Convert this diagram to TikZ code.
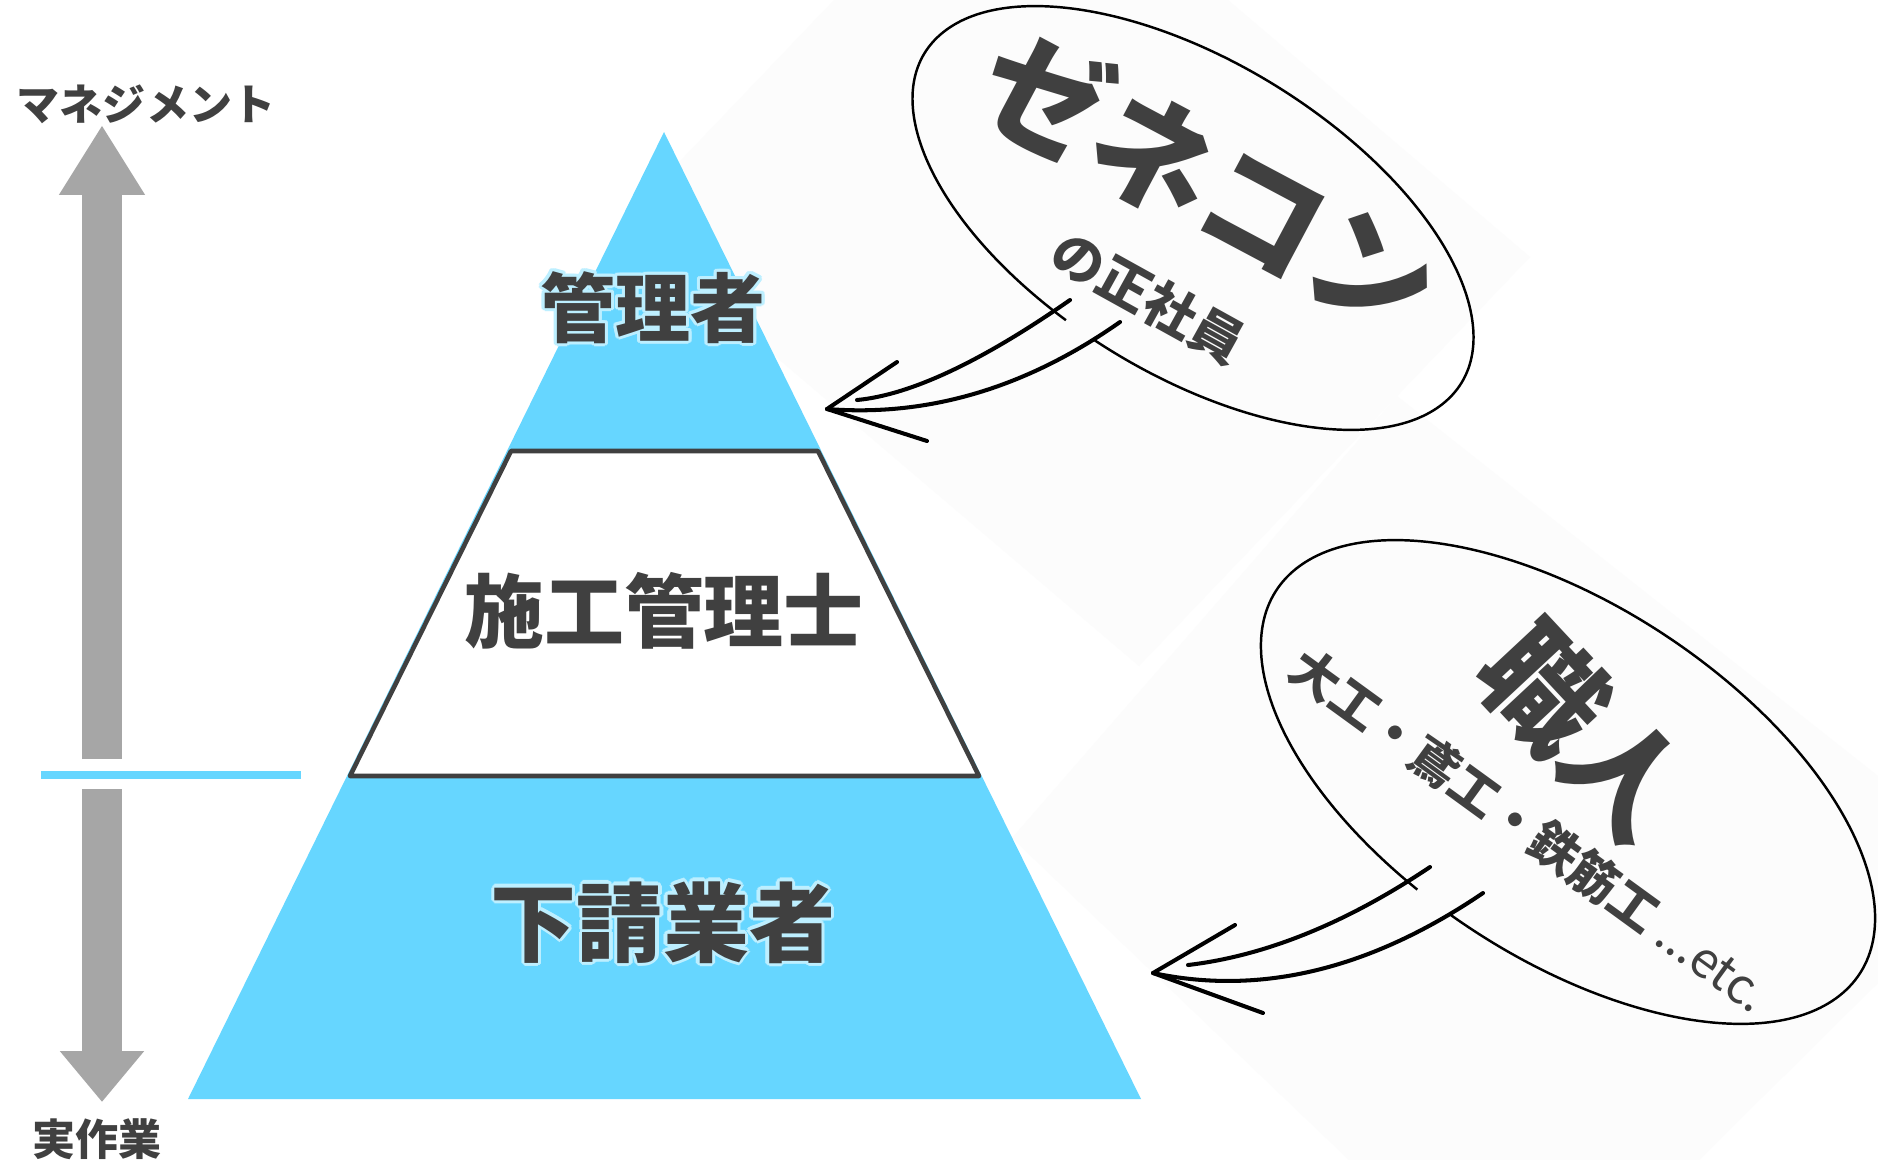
\documentclass[tikz,border=0pt]{standalone}
\usepackage{fontspec}
\usepackage[copies]{contour}
\usetikzlibrary{arrows.meta}

\newfontfamily\jp{Noto Sans CJK JP}
\newcommand\fs[1]{\fontsize{#1}{#1}\selectfont}
\definecolor{ink}{HTML}{404040}
\definecolor{sky}{HTML}{66D6FF}
\definecolor{glow}{HTML}{BDEFFF}
\definecolor{steel}{HTML}{A6A6A6}
\definecolor{paper}{HTML}{FCFCFC}
\contourlength{1.8pt}
\contournumber{12}

\begin{document}
\begin{tikzpicture}[x=0.02cm, y=-0.02cm]
\tikzset{tag/.style = {text=ink, inner sep=0pt, font=\jp\bfseries}}
\tikzset{shaft/.style = {steel, line width=22.8pt}}
\tikzset{rim/.style = {black, line width=1.4pt}}
\tikzset{sketch/.style = {black, line width=2.3pt, line cap=round}}

\fill[white] (0,0) rectangle (1878,1160);
\useasboundingbox (0,0) rectangle (1878,1160);
\fill[paper] (620,224) -- (834,0) -- (1228,0) -- (1530,257) -- (1139,666) -- cycle;
\fill[paper] (1012,838) -- (1397,396) -- (1878,776) -- (1878,983) -- (1699,1160) -- (1349,1160) -- cycle;

\node[tag, font=\jp\bfseries\fs{24.5pt}] (mgmt) at (146,104) {マネジメント};
\node[tag, font=\jp\bfseries\fs{24.5pt}] (work) at (97,1139) {実作業};

\coordinate (upfoot) at (102,759);
\coordinate (uptip) at (102,125);
\coordinate (dnfoot) at (102,789);
\coordinate (dntip) at (102,1102);
\draw[shaft, -{Triangle[width=46.1pt,length=39.8pt]}] (upfoot) -- (uptip);
\draw[shaft, -{Triangle[width=46.1pt,length=29pt]}] (dnfoot) -- (dntip);
\draw[sky, line width=4.6pt] (41,775) -- (301,775);

\coordinate (apex) at (664,132);
\coordinate (bl) at (188,1099);
\coordinate (br) at (1141,1099);
\fill[sky] (apex) -- (br) -- (bl) -- cycle;
\draw[ink, fill=white, line width=2.6pt, line join=round] (511,451) -- (818,451) -- (979,776) -- (350,776) -- cycle;

\node[tag, font=\jp\bfseries\fs{42.7pt}] (mgr) at (653,309) {\contour{glow}{管理者}};
\node[tag, font=\jp\bfseries\fs{45.5pt}] (eng) at (664,611) {施工管理士};
\node[tag, font=\jp\bfseries\fs{49pt}] (sub) at (663,924) {\contour{glow}{下請業者}};

\begin{scope}[shift={(1193,218)}, rotate=-31.6]
\draw[rim] (100:315 and 156) arc[start angle=100, end angle=454, x radius=315, y radius=156];
\end{scope}
\begin{scope}[shift={(1568,782)}, rotate=-33.4]
\draw[rim] (101:349 and 176) arc[start angle=101, end angle=454, x radius=349, y radius=176];
\end{scope}

\node[tag, font=\jp\bfseries\fs{71pt}, rotate=-28] (gc) at (1210,181) {ゼネコン};
\node[tag, font=\jp\bfseries\fs{30pt}, rotate=-29] (gcstaff) at (1148,297) {の正社員};
\node[tag, font=\jp\bfseries\fs{68pt}, rotate=-47] (craft) at (1585,732) {職人};
\node[tag, font=\jp\bfseries\fs{28pt}, rotate=-36] (trades) at (1530,830) {大工・鳶工・鉄筋工 {\mdseries ...etc.}};

\coordinate (gcA) at (1070,300);
\coordinate (gcB) at (1120,322);
\coordinate (gcend) at (857,400);
\coordinate (gctip) at (827,409);
\draw[sketch] (gcA) .. controls (981,362) and (910,395) .. (gcend);
\draw[sketch] (gcB) .. controls (1026,388) and (928,417) .. (gctip);
\draw[sketch] (gctip) -- (897,362);
\draw[sketch] (gctip) -- (927,441);

\coordinate (crA) at (1430,867);
\coordinate (crB) at (1483,893);
\coordinate (crend) at (1188,965);
\coordinate (crtip) at (1153,973);
\draw[sketch] (crA) .. controls (1345,924) and (1264,956) .. (crend);
\draw[sketch] (crB) .. controls (1371,969) and (1261,996) .. (crtip);
\draw[sketch] (crtip) -- (1235,925);
\draw[sketch] (crtip) -- (1263,1013);
\end{tikzpicture}
\end{document}
